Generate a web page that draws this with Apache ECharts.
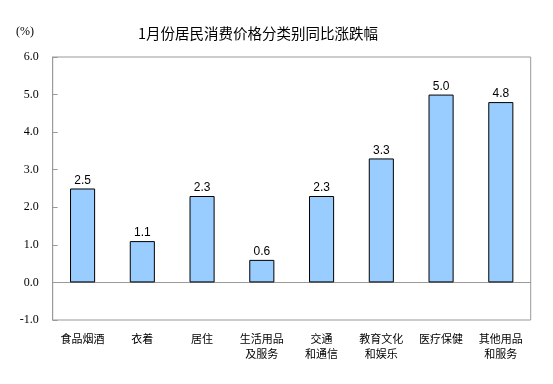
<!DOCTYPE html>
<html><head><meta charset="utf-8">
<script src="https://cdn.jsdelivr.net/npm/echarts@6/dist/echarts.min.js"></script>
<style>html,body{margin:0;padding:0;background:#fff}#c{width:553px;height:384px}</style>
</head><body><div id="c"></div>
<script>
const categories = ['食品烟酒','衣着','居住','生活用品\n及服务','交通\n和通信','教育文化\n和娱乐','医疗保健','其他用品\n和服务'];
const values = [2.5, 1.1, 2.3, 0.6, 2.3, 3.3, 5.0, 4.8];
const titleText = '1月份居民消费价格分类别同比涨跌幅';
const unitText = '(%)';

const chart = echarts.init(document.getElementById('c'), null, {renderer:'canvas'});
chart.setOption({
  animation:false,
  backgroundColor:'#fff',
  title:{text:titleText, left:133, top:21, textStyle:{fontFamily:'Noto Sans CJK SC', fontSize:14.5, fontWeight:'normal', color:'#000'}},
  graphic:[{type:'text', left:16, top:26, style:{text:unitText, font:'12px "Liberation Serif"', fill:'#000'}}],
  grid:{left:52.7, right:22.3, top:57, bottom:64, show:true, borderColor:'#999', borderWidth:1, backgroundColor:'transparent', containLabel:false, outerBoundsMode:'none'},
  xAxis:{type:'category', data:categories,
    axisLine:{show:true, onZero:true, lineStyle:{color:'#999', width:1}},
    axisTick:{show:false},
    axisLabel:{interval:0, margin:11, fontFamily:'Noto Sans CJK SC', fontSize:11, color:'#000', lineHeight:15, verticalAlign:'top'}
  },
  yAxis:{type:'value', min:-1, max:6, interval:1,
    axisLine:{show:true, lineStyle:{color:'#999'}},
    axisTick:{show:true, inside:true, length:5, lineStyle:{color:'#999'}},
    splitLine:{show:false},
    axisLabel:{formatter:v=>v.toFixed(1), fontFamily:'Liberation Serif', fontSize:12, color:'#000', margin:14}
  },
  series:[{type:'bar', data:values, barWidth:'42%',
    itemStyle:{color:'#99CCFF', borderColor:'#000', borderWidth:1},
    label:{show:true, position:'top', distance:2, formatter:p=>p.value.toFixed(1), fontFamily:'Liberation Sans', fontSize:12, color:'#000'}
  }]
});
</script></body></html>
